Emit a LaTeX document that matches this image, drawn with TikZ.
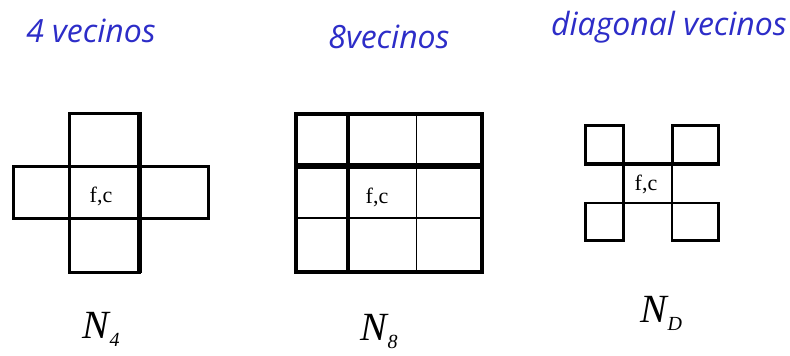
\documentclass[tikz,border=0pt]{standalone}
\usepackage{fontspec}
\setmainfont{Liberation Serif}
\newfontfamily\titlefont{Open Sans}
\definecolor{titleblue}{RGB}{45,45,200}
\newcommand{\Nlab}[1]{\textit{N}\kern-1pt\raisebox{-8pt}{\fontsize{20}{22}\selectfont\textit{#1}}}
\begin{document}
\begin{tikzpicture}[x=1pt,y=-1pt,
  title/.style={font=\titlefont\itshape\fontsize{32}{35}\selectfont, text=titleblue, inner sep=0pt},
  cellfc/.style={font=\fontsize{22}{24}\selectfont, inner sep=0pt},
  nlabel/.style={font=\fontsize{40}{42}\selectfont, inner sep=0pt, anchor=base west},
  thick grid/.style={line width=3pt, line cap=rect}]
\useasboundingbox (0,0) rectangle (790,356);
\fill[white] (0,0) rectangle (790,356);
% titles
\node[title] (t4) at (91,31) {4 vecinos};
\node[title] (t8) at (389,37) {8vecinos};
\node[title] (tD) at (669,27) {diagonal vecinos};
% N4 cross
\draw[thick grid] (69,113) rectangle (139,166);
\draw[thick grid] (13,166) rectangle (208,218);
\draw[thick grid] (69,218) rectangle (139,272);
\draw[thick grid] (69,166) -- (69,218);
\draw[line width=5pt] (139,112) -- (139,273);
\node[cellfc] (fc4) at (101,196) {f,c};
% N8 grid
\draw[line width=3.5pt, line cap=rect] (296,114) rectangle (482,272);
\draw[line width=5.5pt] (296,166) -- (482,166);
\draw[line width=3.5pt] (348,114) -- (348,272);
\draw[line width=1pt] (416,114) -- (416,272);
\draw[line width=2pt] (296,218) -- (482,218);
\node[cellfc] (fc8) at (377,197) {f,c};
% ND diagonal
\draw[line width=3pt, line cap=rect] (585,164) -- (585,125) -- (623,125) -- (623,164);
\draw[line width=3pt, line cap=rect] (672,164) -- (672,125) -- (718,125) -- (718,164);
\draw[line width=4pt] (584,164) -- (719,164);
\draw[line width=3pt] (623,164) -- (623,241);
\draw[line width=2pt] (672,164) -- (672,241);
\draw[line width=1.5pt] (623,203) -- (672,203);
\draw[line width=1.5pt] (585,203) -- (623,203);
\draw[line width=3pt, line cap=rect] (585,203) -- (585,240) -- (623,240);
\draw[line width=1.5pt] (672,203) -- (718,203);
\draw[line width=3pt, line cap=rect] (672,240) -- (718,240) -- (718,203);
\node[cellfc] (fcD) at (646,184) {f,c};
% labels
\node[nlabel] (n4) at (82,338) {\Nlab{4}};
\node[nlabel] (n8) at (360,340) {\Nlab{8}};
\node[nlabel] (nD) at (640,322) {\Nlab{D}};
\end{tikzpicture}
\end{document}
